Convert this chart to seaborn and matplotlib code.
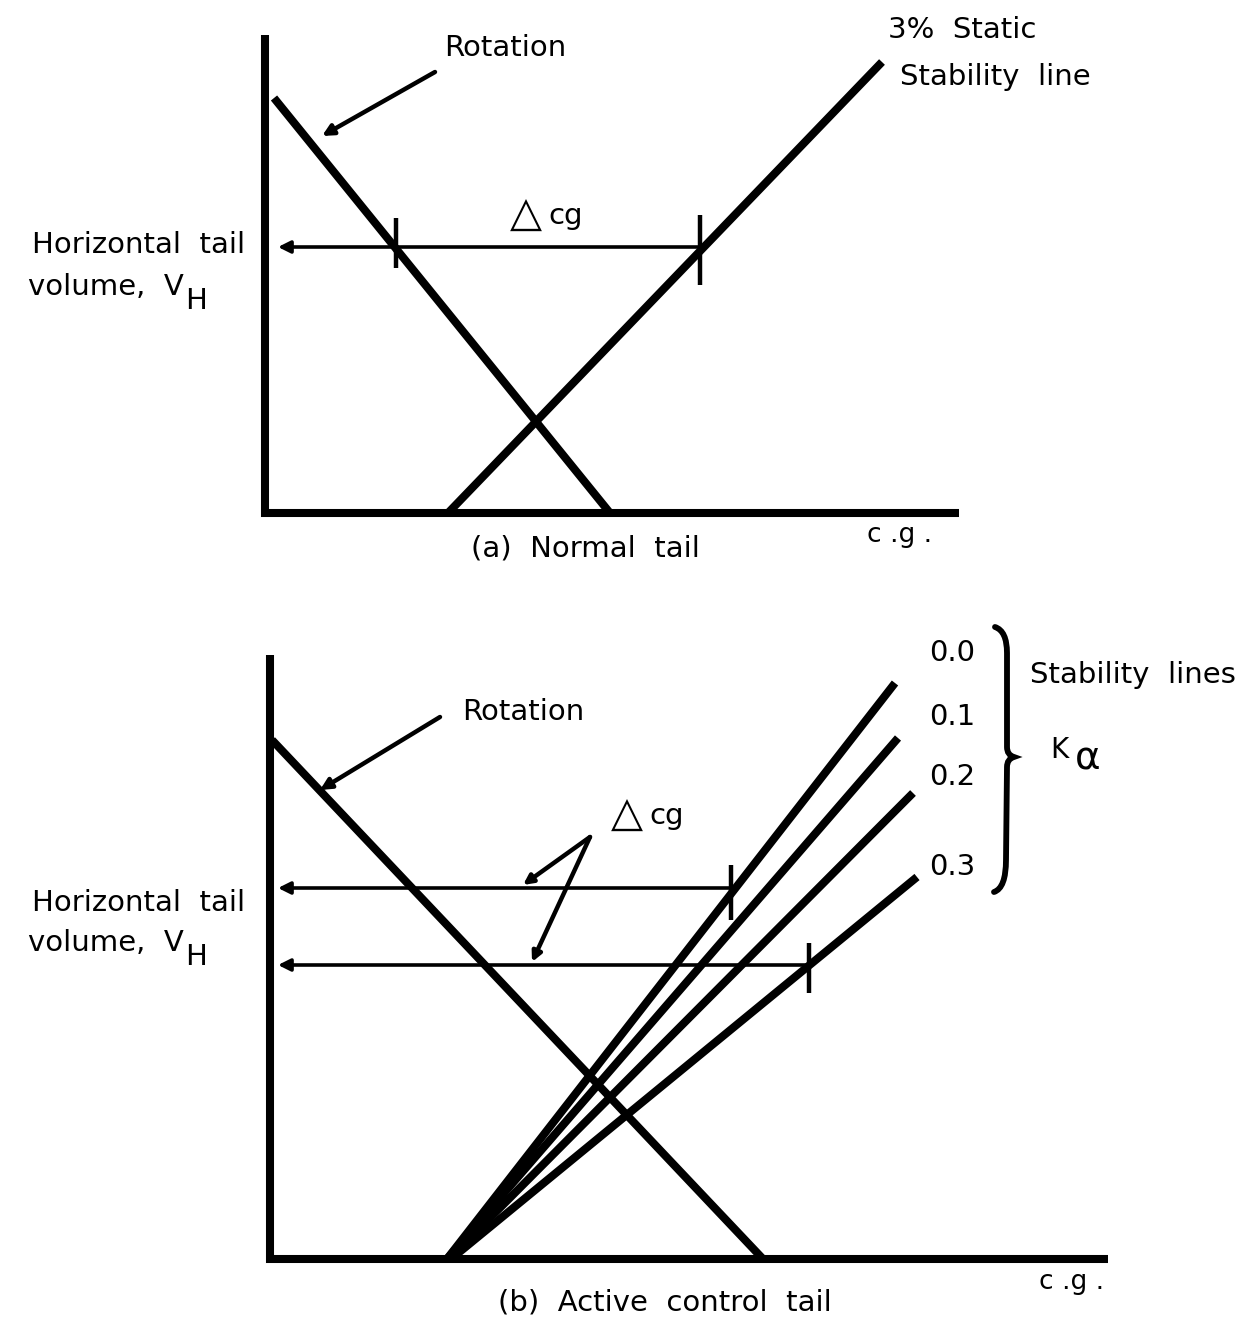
import numpy as np
import pandas as pd
import matplotlib
matplotlib.use("Agg")
import matplotlib.pyplot as plt
from matplotlib.path import Path
from matplotlib.patches import PathPatch
import seaborn as sns

sns.set_theme(style="white")
plt.rcParams['font.family'] = ['DejaVu Sans']

# schematic units: c.g. position (x) and horizontal tail volume (y), origin at the axes corner

# --- panel (a) normal tail
a_axis_x = [0, 0, 694]
a_axis_y = [478, 0, 0]
a_rot_x = [9, 345]
a_rot_y = [415, 0]
a_stab_x = [183, 617]
a_stab_y = [0, 451]
a_vh = 266
a_arrow_x = [437, 13]
a_ticks = [(131, 245, 295), (435, 228, 298)]

# --- panel (b) active control tail
b_axis_x = [0, 0, 838]
b_axis_y = [604, 0, 0]
b_rot_x = [2, 493]
b_rot_y = [519, 0]
k_alpha = ['0.0', '0.1', '0.2', '0.3']
k_start_x = [177, 177, 179, 181]
k_end_x = [625, 628, 643, 647]
k_end_y = [576, 521, 466, 382]
b_vh = [371, 294]
b_arrow_x = [[463, 8], [538, 8]]
b_ticks = [(461, 339, 394), (539, 266, 316)]

stab = pd.DataFrame({
    'cg': k_start_x + k_end_x,
    'vh': [0] * 4 + k_end_y,
    'K': k_alpha * 2,
})

fig = plt.figure(figsize=(12.56, 13.34), dpi=100)
ax_a = fig.add_axes([0, 734 / 1334, 1, 600 / 1334])
ax_b = fig.add_axes([0, 0, 1, 734 / 1334])
ax_a.set_xlim(-265, 991)
ax_a.set_ylim(-87, 513)
ax_b.set_xlim(-270, 986)
ax_b.set_ylim(-75, 659)

THICK = 5.8
THIN = 2.6
FS = 21


def line(ax, xs, ys, lw=THICK):
    sns.lineplot(x=xs, y=ys, ax=ax, color='black', lw=lw, sort=False,
                 estimator=None, solid_joinstyle='miter', solid_capstyle='butt')


def arrow(ax, start, end, lw=THIN, scale=18):
    ax.annotate('', xy=end, xytext=start,
                arrowprops=dict(arrowstyle='-|>', color='black', lw=lw,
                                mutation_scale=scale, shrinkA=0, shrinkB=0))


def label(ax, x, y, s, size=FS, ha='center', **kw):
    ax.text(x, y, s, fontsize=size, ha=ha, va='center', color='black', **kw)


def delta_cg(ax, x, y):
    label(ax, x, y, '\u25B3', size=FS + 9, ha='right')
    label(ax, x + 6, y - 1, 'cg', ha='left')


def tail_volume(ax, xr, y):
    label(ax, xr, y, 'volume,  V', ha='right')
    label(ax, xr + 1, y - 14, 'H', ha='left')


# panel (a)
line(ax_a, a_axis_x, a_axis_y)
line(ax_a, a_rot_x, a_rot_y)
line(ax_a, a_stab_x, a_stab_y)
arrow(ax_a, (a_arrow_x[0], a_vh), (a_arrow_x[1], a_vh))
for tx, y0, y1 in a_ticks:
    line(ax_a, [tx, tx], [y0, y1], lw=3.2)
arrow(ax_a, (170, 441), (57, 377), lw=3.2, scale=16)
label(ax_a, 240, 465, 'Rotation')
delta_cg(ax_a, 277, 298)
label(ax_a, 697, 483, '3%  Static')
label(ax_a, 730, 436, 'Stability  line')
label(ax_a, -20, 268, 'Horizontal  tail', ha='right')
tail_volume(ax_a, -81, 226)
label(ax_a, 320, -35, '(a)  Normal  tail')
label(ax_a, 635, -22, 'c .g .', size=FS - 2)

# panel (b)
line(ax_b, b_axis_x, b_axis_y)
line(ax_b, b_rot_x, b_rot_y)
sns.lineplot(data=stab, x='cg', y='vh', units='K', estimator=None, sort=False,
             color='black', lw=THICK, ax=ax_b, legend=False, solid_capstyle='butt')
for vh, xs in zip(b_vh, b_arrow_x):
    arrow(ax_b, (xs[0], vh), (xs[1], vh))
for tx, y0, y1 in b_ticks:
    line(ax_b, [tx, tx], [y0, y1], lw=3.2)
arrow(ax_b, (170, 542), (50, 469), lw=3.2, scale=16)
arrow(ax_b, (320, 422), (253, 374), lw=3.2, scale=14)
arrow(ax_b, (320, 422), (262, 297), lw=3.2, scale=14)
label(ax_b, 253, 547, 'Rotation')
delta_cg(ax_b, 373, 444)
for k, yk in zip(k_alpha, [606, 542, 482, 392]):
    label(ax_b, 682, yk, k)
label(ax_b, 863, 584, 'Stability  lines')
label(ax_b, 789, 509, 'K', size=FS - 1)
label(ax_b, 818, 501, '\u03b1', size=FS + 7)
label(ax_b, -25, 356, 'Horizontal  tail', ha='right')
tail_volume(ax_b, -86, 316)
label(ax_b, 395, -43, '(b)  Active  control  tail')
label(ax_b, 802, -23, 'c .g .', size=FS - 2)

# brace grouping the K-alpha values
verts = [(725, 632), (737, 628), (737, 606),
         (737, 512),
         (737, 504), (744, 502),
         (737, 500), (737, 492),
         (736, 399),
         (736, 371), (724, 367)]
codes = [Path.MOVETO, Path.CURVE3, Path.CURVE3, Path.LINETO,
         Path.CURVE3, Path.CURVE3, Path.CURVE3, Path.CURVE3,
         Path.LINETO, Path.CURVE3, Path.CURVE3]
ax_b.add_patch(PathPatch(Path(verts, codes), fill=False, lw=4.2, color='black',
                         capstyle='round'))

for ax in (ax_a, ax_b):
    ax.set_axis_off()

fig.savefig('out.png', dpi=100, facecolor='white')
